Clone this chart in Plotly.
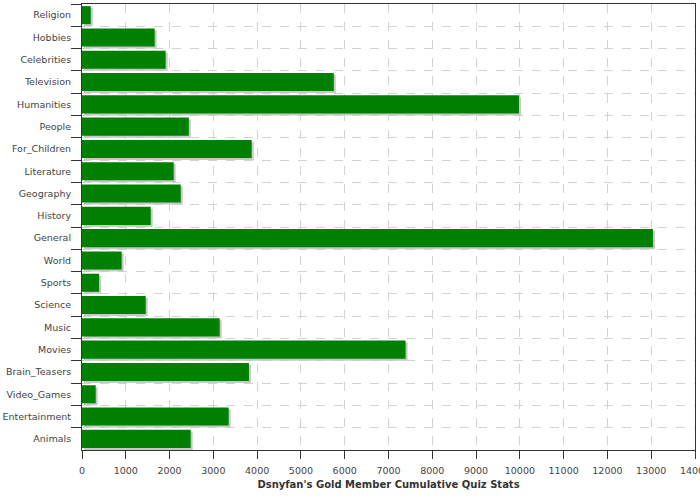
import plotly.graph_objects as go

categories = ["Religion", "Hobbies", "Celebrities", "Television", "Humanities", "People",
              "For_Children", "Literature", "Geography", "History", "General", "World",
              "Sports", "Science", "Music", "Movies", "Brain_Teasers", "Video_Games",
              "Entertainment", "Animals"]
values = [200, 1660, 1910, 5750, 9980, 2440, 3875, 2095, 2255, 1570, 13040, 906,
          390, 1455, 3145, 7390, 3813, 313, 3350, 2482]
x_ticks = list(range(0, 14001, 1000))
x_title = "Dsnyfan's Gold Member Cumulative Quiz Stats"

W, H = 700, 500
ML, MR, MT, MB = 82, 5, 4, 50
plot_w = W - ML - MR
plot_h = H - MT - MB
x_max = 14000
bar_w = 0.81
shadow_dx = 2 * x_max / plot_w           # 2 px in data units
shadow_dy = 2 * len(categories) / plot_h  # 2 px in category units

fig = go.Figure()
fig.add_trace(go.Bar(
    y=categories, x=values, orientation="h",
    base=shadow_dx, width=bar_w, offset=-bar_w / 2 + shadow_dy,
    marker=dict(color="#c8c8c8", line=dict(width=0)),
    hoverinfo="skip", showlegend=False,
))
fig.add_trace(go.Bar(
    y=categories, x=values, orientation="h",
    width=bar_w, offset=-bar_w / 2,
    marker=dict(color="#008000", line=dict(width=0)),
    showlegend=False,
))

fig.update_layout(
    width=W, height=H,
    margin=dict(l=ML, r=MR, t=MT, b=MB, autoexpand=False),
    barmode="overlay",
    paper_bgcolor="white", plot_bgcolor="white",
    font=dict(family="DejaVu Sans", size=9.5, color="#444444"),
)
fig.update_xaxes(
    range=[0, x_max], tickvals=x_ticks, ticktext=[str(v) for v in x_ticks],
    ticks="outside", ticklen=8, tickcolor="#333333", ticklabelstandoff=4,
    ticklabeloverflow="allow",
    showline=True, linecolor="#333333", linewidth=1, mirror=True,
    showgrid=True, gridcolor="#cdd3d9", griddash="dash", gridwidth=1,
    zeroline=False, automargin=False,
    title=dict(text=x_title, font=dict(family="DejaVu Sans", size=10, color="#333333", weight="bold"),
               standoff=5),
)
fig.update_yaxes(
    categoryorder="array", categoryarray=categories, autorange="reversed",
    ticks="outside", ticklen=10, tickcolor="#333333", tickson="boundaries",
    ticklabelstandoff=8,
    showline=True, linecolor="#333333", linewidth=1, mirror=True,
    showgrid=True, gridcolor="#cdd3d9", griddash="dash", gridwidth=1,
    zeroline=False, automargin=False,
)

fig.write_html("out.html", config={"displayModeBar": False},
               post_script="document.body.style.margin='0';")
